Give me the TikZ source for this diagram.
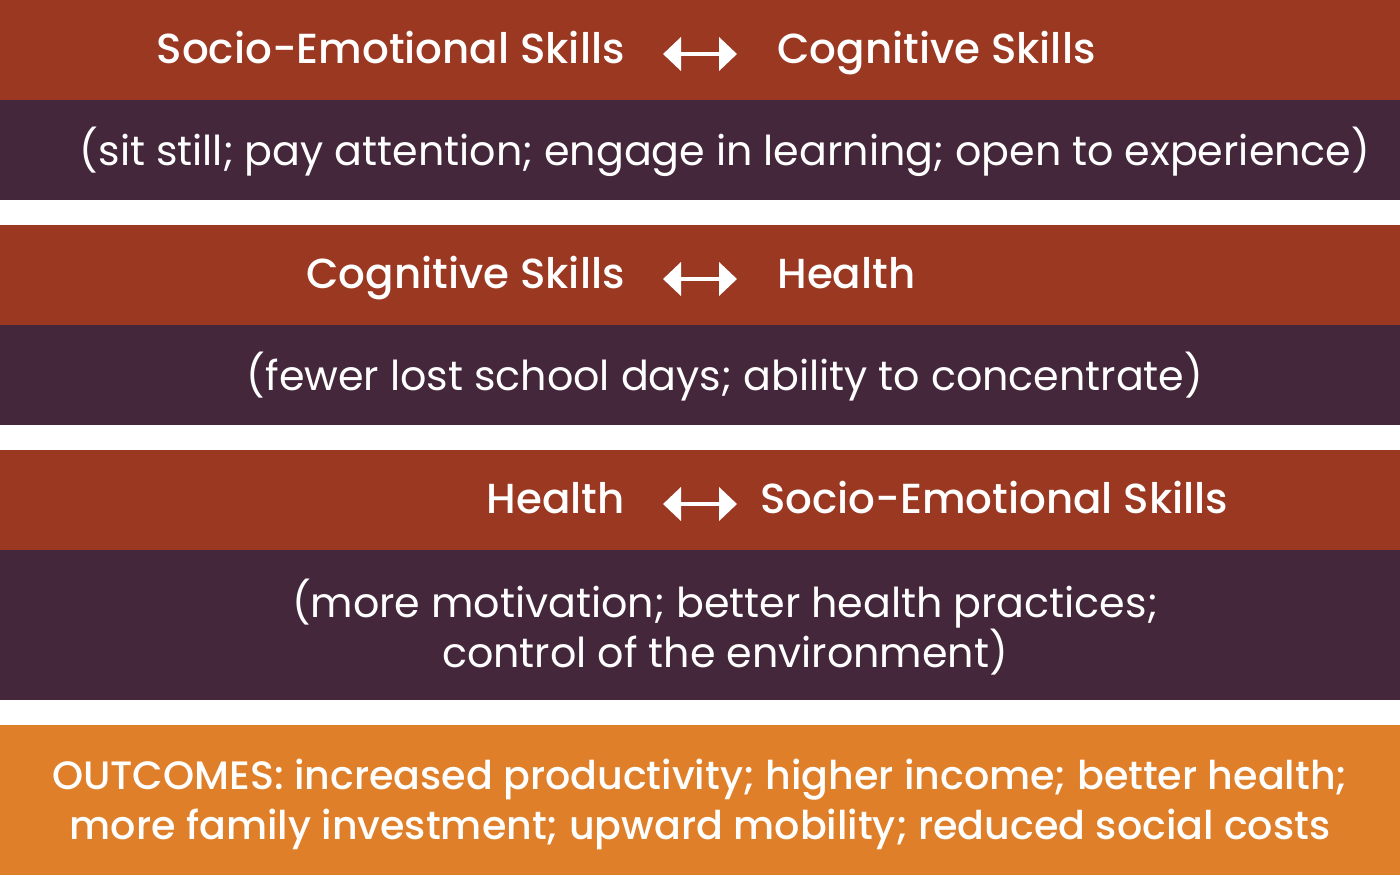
\documentclass[tikz,border=0pt]{standalone}
\usepackage{fontspec}
\setmainfont{Poppins}[BoldFont={Poppins Medium}]
\definecolor{rust}{RGB}{155,56,34}
\definecolor{plum}{RGB}{69,39,60}
\definecolor{amber}{RGB}{224,127,41}
\usetikzlibrary{arrows.meta,positioning}

\begin{document}
\begin{tikzpicture}[x=0.5pt,y=0.5pt,yscale=-1,
	head/.style={text=white,inner sep=0pt,text height=0.7em,text depth=0pt,font=\fontsize{21}{24}\selectfont\bfseries},
	body/.style={text=white,inner sep=0pt,align=center,font=\fontsize{20.6}{25}\selectfont},
	biarrow/.style={white,line width=2.2pt,{Triangle[width=16.5pt,length=9pt]}-{Triangle[width=16.5pt,length=9pt]}}]
	\useasboundingbox (0,0) rectangle (1400,875);
	
	%bands
	\fill[rust] (0,0) rectangle (1400,100);
	\fill[plum] (0,100) rectangle (1400,200);
	\fill[rust] (0,225) rectangle (1400,325);
	\fill[plum] (0,325) rectangle (1400,425);
	\fill[rust] (0,450) rectangle (1400,550);
	\fill[plum] (0,550) rectangle (1400,700);
	\fill[amber] (0,725) rectangle (1400,875);
	
	%first pair
	\node[head,anchor=east] (soc1) at (625,56) {Socio-Emotional Skills};
	\node[head,anchor=west] (cog1) at (777,56) {Cognitive Skills};
	\draw[biarrow,shorten <=19pt,shorten >=20pt] ([yshift=-1pt]soc1.east) -- ([yshift=-1pt]cog1.west);
	\node[body] (why1) at (725,152) {(sit still; pay attention; engage in learning; open to experience)};
	
	%second pair
	\node[head,anchor=east] (cog2) at (625,281) {Cognitive Skills};
	\node[head,anchor=west] (hea2) at (777,281) {Health};
	\draw[biarrow,shorten <=19pt,shorten >=20pt] ([yshift=-1pt]cog2.east) -- ([yshift=-1pt]hea2.west);
	\node[body] (why2) at (725,377) {(fewer lost school days; ability to concentrate)};
	
	%third pair
	\node[head,anchor=east] (hea3) at (625,506) {Health};
	\node[head,anchor=west] (soc3) at (760,506) {Socio-Emotional Skills};
	\draw[biarrow,shorten <=19pt,shorten >=11.5pt] ([yshift=-1pt]hea3.east) -- ([yshift=-1pt]soc3.west);
	\node[body] (why3) at (725,627) {(more motivation; better health practices;\\control of the environment)};
	
	%outcomes
	\node[body,font=\fontsize{19.8}{25}\selectfont\bfseries] (out) at (700,804) {OUTCOMES: increased productivity; higher income; better health;\\more family investment; upward mobility; reduced social costs};
\end{tikzpicture}
\end{document}
